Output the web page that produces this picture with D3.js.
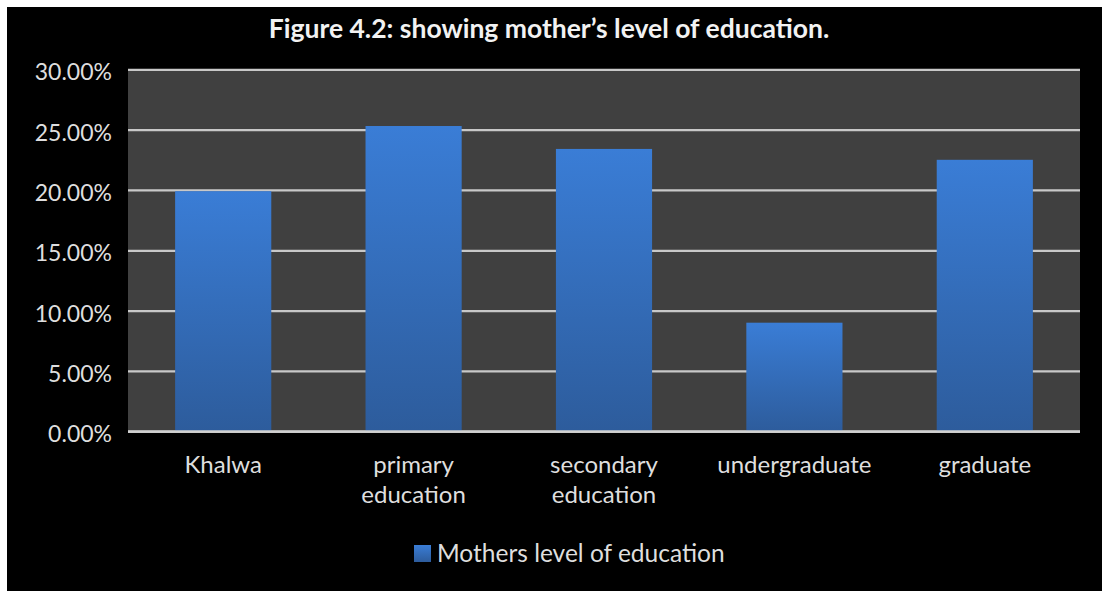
<!DOCTYPE html>
<html><head><meta charset="utf-8">
<script src="https://cdn.jsdelivr.net/npm/d3@7"></script>
<style>html,body{margin:0;padding:0;background:#fff;}svg{display:block;}</style>
</head><body>
<svg id="chart" width="1102" height="591"></svg>
<script>
const categories = [["Khalwa"], ["primary", "education"], ["secondary", "education"], ["undergraduate"], ["graduate"]];
const values = [19.9, 25.3, 23.4, 9.0, 22.5];
const yTicks = [0, 5, 10, 15, 20, 25, 30];
const seriesName = "Mothers level of education";
const title = "Figure 4.2: showing mother’s level of education.";

const svg = d3.select("#chart");
const W = 1102, H = 591;
svg.append("rect").attr("width", W).attr("height", H).attr("fill", "#fff");
svg.append("rect").attr("x", 7).attr("y", 7).attr("width", W - 7).attr("height", H - 7).attr("fill", "#000");

const plot = {l: 128, r: 1080, t: 69.3, b: 431.3};
const labels = categories.map(c => c.join(" "));
const x = d3.scaleBand().domain(labels).range([plot.l, plot.r]).paddingInner(0.495).paddingOuter(0.2475);
const y = d3.scaleLinear().domain([0, 30]).range([plot.b, plot.t]);

const defs = svg.append("defs");
const grad = defs.append("linearGradient").attr("id", "barGrad").attr("x1", 0).attr("y1", 0).attr("x2", 0).attr("y2", 1);
grad.append("stop").attr("offset", "0%").attr("stop-color", "#3a7dd6");
grad.append("stop").attr("offset", "100%").attr("stop-color", "#2d5c9c");

svg.append("rect").attr("x", plot.l).attr("y", plot.t).attr("width", plot.r - plot.l).attr("height", plot.b - plot.t).attr("fill", "#404040");

const font = "Lato, 'Open Sans', sans-serif";

// gridlines via axis
const gridAxis = d3.axisLeft(y).tickValues(yTicks).tickSize(-(plot.r - plot.l)).tickFormat("");
const g = svg.append("g").attr("transform", `translate(${plot.l},0)`).call(gridAxis);
g.select(".domain").remove();
g.selectAll("line").attr("stroke", "#c8c8c8").attr("stroke-width", 2.2);

// bars
svg.append("g").selectAll("rect").data(values).join("rect")
  .attr("x", (d, i) => x(labels[i]))
  .attr("width", x.bandwidth())
  .attr("y", d => y(d))
  .attr("height", d => y(0) - y(d))
  .attr("fill", "url(#barGrad)");

// baseline
svg.append("line").attr("x1", plot.l).attr("x2", plot.r).attr("y1", y(0)).attr("y2", y(0)).attr("stroke", "#d0d0d0").attr("stroke-width", 2.2);

// y tick labels
const yAxis = d3.axisLeft(y).tickValues(yTicks).tickSize(0).tickPadding(0).tickFormat(d => d3.format(".2f")(d) + "%");
const ya = svg.append("g").attr("transform", `translate(${plot.l - 16},3)`).call(yAxis);
ya.select(".domain").remove();
ya.selectAll("text").attr("fill", "#dedede").style("font-family", font).style("font-size", "23px");

// x labels
const xa = svg.append("g");
categories.forEach((c, i) => {
  const t = xa.append("text").attr("x", x(labels[i]) + x.bandwidth() / 2).attr("y", 473)
    .attr("text-anchor", "middle").attr("fill", "#dedede").style("font-family", font).style("font-size", "24px");
  c.forEach((line, j) => t.append("tspan").attr("x", x(labels[i]) + x.bandwidth() / 2).attr("dy", j === 0 ? 0 : 30).text(line));
});

// title
svg.append("text").attr("x", 549).attr("y", 38).attr("text-anchor", "middle").attr("fill", "#f2f2f2")
  .style("font-family", font).style("font-weight", "bold").style("font-size", "26.5px").text(title);

// legend
svg.append("rect").attr("x", 414).attr("y", 545).attr("width", 17).attr("height", 17).attr("fill", "url(#barGrad)");
svg.append("text").attr("x", 437).attr("y", 562).attr("fill", "#dedede").style("font-family", font).style("font-size", "24.5px").text(seriesName);
</script>
</body></html>
